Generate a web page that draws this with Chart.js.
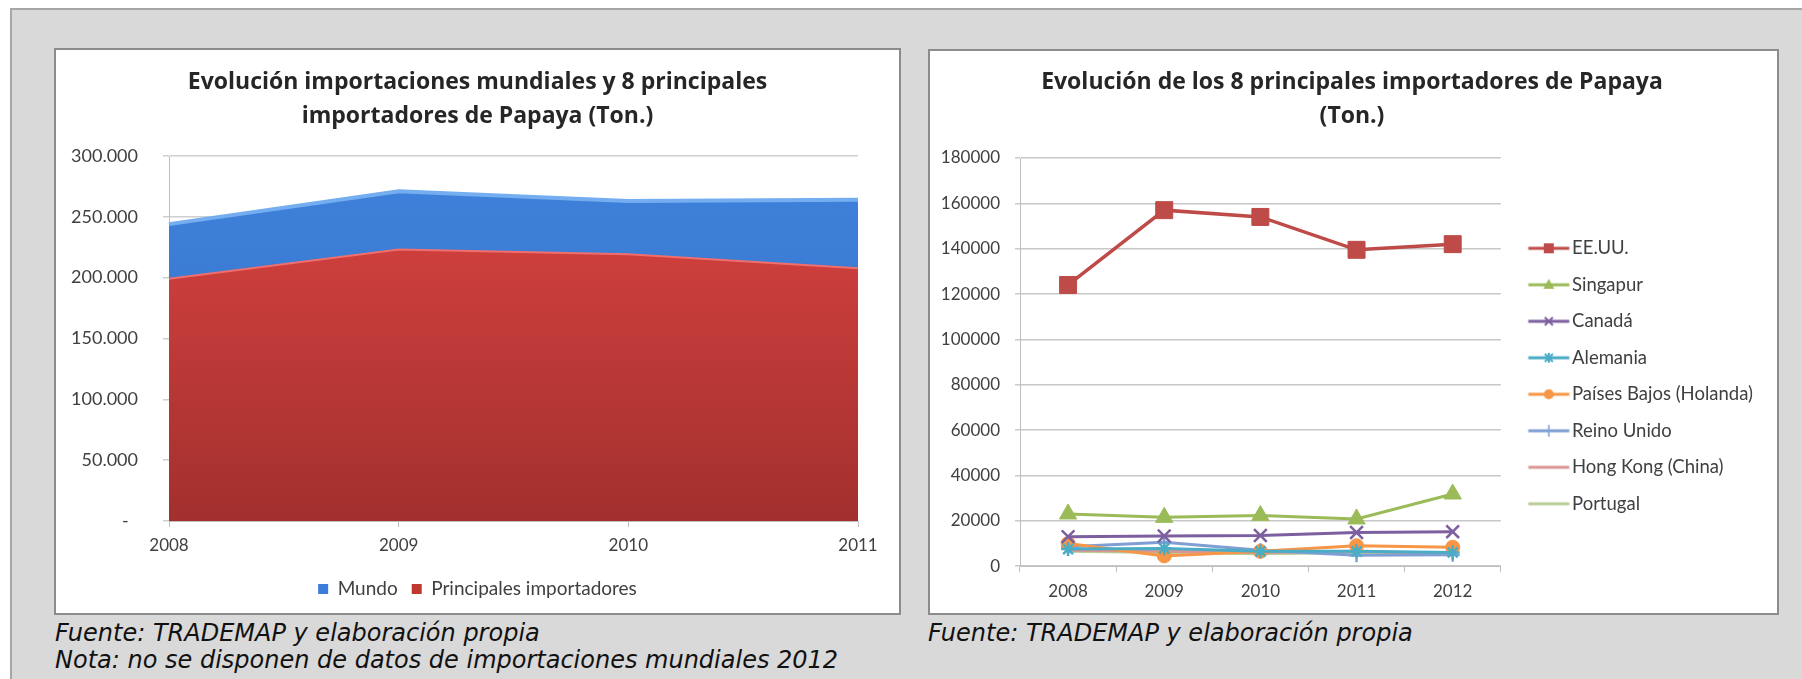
<!DOCTYPE html>
<html>
<head>
<meta charset="utf-8">
<script src="https://cdn.jsdelivr.net/npm/chart.js@4/dist/chart.umd.min.js"></script>
<style>
  html, body { margin: 0; padding: 0; background: #fff; }
  body { width: 1802px; height: 679px; position: relative; overflow: hidden; }
  #frame { position: absolute; left: 10px; top: 8px; width: 1800px; height: 700px; border: 2px solid #a6a6a6; background: #d9d9d9; box-sizing: border-box; }
  .box { position: absolute; background: #fff; border: 2px solid #8c8c8c; }
  #boxL { left: 54px; top: 48px; width: 843px; height: 563px; }
  #boxR { left: 928px; top: 49px; width: 847px; height: 562px; }
  canvas { display: block; }
  .note { position: absolute; font-family: "DejaVu Sans"; font-style: italic; font-size: 24px; line-height: 27px; color: #111; white-space: nowrap; }
</style>
</head>
<body>
<div id="frame"></div>
<div class="box" id="boxL"><canvas id="areaChart" width="843" height="563"></canvas></div>
<div class="box" id="boxR"><canvas id="lineChart" width="847" height="562"></canvas></div>
<div class="note" style="left:55px; top:620px;">Fuente: TRADEMAP y elaboración propia<br>Nota: no se disponen de datos de importaciones mundiales 2012</div>
<div class="note" style="left:928px; top:620px;">Fuente: TRADEMAP y elaboración propia</div>

<script>
// Left chart data (Ton.)
var years1 = ['2008', '2009', '2010', '2011'];
var mundo = [244000, 271000, 263000, 264000];
var principales = [200000, 224000, 220000, 208500];

// Right chart data (Ton.)
var years2 = ['2008', '2009', '2010', '2011', '2012'];
var importers = ['EE.UU.', 'Singapur', 'Canadá', 'Alemania', 'Países Bajos (Holanda)', 'Reino Unido', 'Hong Kong (China)', 'Portugal'];
var eeuu = [124000, 157000, 154000, 139500, 142000];
var singapur = [23000, 21500, 22300, 20800, 31800];
var canada = [13000, 13300, 13500, 14800, 15200];
var alemania = [7500, 7800, 6500, 6500, 6000];
var paisesBajos = [10000, 4500, 6500, 9000, 8300];
var reinoUnido = [8500, 10500, 7000, 4800, 5000];
var hongKong = [7000, 6500, 6000, 6500, 5500];
var portugal = [6500, 6000, 5500, 6000, 5000];

var importerData = [eeuu, singapur, canada, alemania, paisesBajos, reinoUnido, hongKong, portugal];

// styles
var lineColors = ['#be4b48', '#9bbb59', '#7d5fa0', '#4bacc6', '#f79646', '#7f9fd4', '#d99694', '#b9cd96'];
var markers = ['rect', 'triangle', 'crossRot', 'star', 'circle', 'cross', false, false];
var markerSizes = [12, 10, 9, 7, 7, 7, 0, 0];
var titleFont = { family: 'Open Sans', size: 23, weight: 'bold', lineHeight: 34 / 23 };

Chart.defaults.font.family = 'Lato';
Chart.defaults.color = '#404040';

function puntos(v) {
  if (v === 0) return '-  ';
  return String(v).replace(/\B(?=(\d{3})+(?!\d))/g, '.');
}

function vGradient(top, bottom) {
  return function (ctx) {
    var area = ctx.chart.chartArea;
    if (!area) return top;
    var g = ctx.chart.ctx.createLinearGradient(0, area.top, 0, area.bottom);
    g.addColorStop(0, top);
    g.addColorStop(1, bottom);
    return g;
  };
}

// legend icon: line with marker in the middle
function makeIcon(color, marker) {
  var c = document.createElement('canvas');
  c.width = 64; c.height = 20;
  var g = c.getContext('2d');
  g.strokeStyle = color;
  g.fillStyle = color;
  g.lineWidth = 3;
  g.beginPath(); g.moveTo(19.5, 10); g.lineTo(60.5, 10); g.stroke();
  var x = 40, y = 10;
  g.lineWidth = 2;
  if (marker === 'rect') {
    g.fillRect(x - 5, y - 5, 10, 10);
  } else if (marker === 'triangle') {
    g.beginPath(); g.moveTo(x, y - 6); g.lineTo(x + 5.5, y + 4); g.lineTo(x - 5.5, y + 4); g.closePath(); g.fill();
  } else if (marker === 'crossRot') {
    g.beginPath(); g.moveTo(x - 4, y - 4); g.lineTo(x + 4, y + 4); g.moveTo(x + 4, y - 4); g.lineTo(x - 4, y + 4); g.stroke();
  } else if (marker === 'star') {
    g.beginPath(); g.moveTo(x - 4, y - 4); g.lineTo(x + 4, y + 4); g.moveTo(x + 4, y - 4); g.lineTo(x - 4, y + 4);
    g.moveTo(x, y - 5); g.lineTo(x, y + 5); g.stroke();
  } else if (marker === 'circle') {
    g.beginPath(); g.arc(x, y, 5, 0, Math.PI * 2); g.fill();
  } else if (marker === 'cross') {
    g.lineWidth = 1.5;
    g.beginPath(); g.moveTo(x, y - 6); g.lineTo(x, y + 6); g.stroke();
  }
  return c;
}

// Left: area chart
var areaCtx = document.getElementById('areaChart');
var legendBoxColors = ['#3b7dd8', '#c0392f'];

new Chart(areaCtx, {
  type: 'line',
  data: {
    labels: years1,
    datasets: [{
      label: 'Mundo',
      data: mundo,
      fill: '+1',
      backgroundColor: vGradient('#3f82dc', '#356fc2'),
      borderColor: '#74aef0',
      borderWidth: 4,
      pointRadius: 0,
      tension: 0
    }, {
      label: 'Principales importadores',
      data: principales,
      fill: 'origin',
      backgroundColor: vGradient('#dc4442', '#a2302e'),
      borderColor: '#f06e6c',
      borderWidth: 4,
      pointRadius: 0,
      tension: 0
    }]
  },
  options: {
    responsive: false,
    animation: false,
    layout: { padding: { left: 0, right: 0, top: 0, bottom: 4.5 } },
    plugins: {
      title: {
        display: true,
        text: ['Evolución importaciones mundiales y 8 principales', 'importadores de Papaya (Ton.)'],
        font: titleFont,
        color: '#262626',
        padding: { top: 15, bottom: 23 }
      },
      legend: {
        position: 'bottom',
        maxHeight: 45,
        labels: {
          boxWidth: 10,
          boxHeight: 10,
          padding: 14,
          color: '#404040',
          font: { size: 19 },
          generateLabels: function (chart) {
            var items = Chart.defaults.plugins.legend.labels.generateLabels(chart);
            items.forEach(function (it, i) {
              it.fillStyle = legendBoxColors[i];
              it.strokeStyle = legendBoxColors[i];
              it.lineWidth = 0;
            });
            return items;
          }
        }
      },
      tooltip: { enabled: false }
    },
    scales: {
      x: {
        offset: false,
        grid: { drawOnChartArea: false, tickLength: 6, color: '#bfbfbf' },
        border: { color: '#bfbfbf' },
        ticks: { padding: 8, font: { size: 17 }, maxRotation: 0, autoSkip: false },
        afterFit: function (s) { s.height = 44.5; }
      },
      y: {
        min: 0,
        max: 300000,
        grid: { color: '#cfcfcf', lineWidth: 1.5, tickLength: 6 },
        border: { color: '#bfbfbf' },
        ticks: { stepSize: 50000, padding: 25, font: { size: 18 }, callback: puntos },
        afterFit: function (s) { s.width = 113; }
      },
      // empty right margin so title and legend stay centred on the box
      spacer: {
        position: 'right',
        grid: { display: false },
        border: { display: false },
        ticks: { display: false },
        afterFit: function (s) { s.width = 41; }
      }
    }
  }
});

// Right: line chart
var lineCtx = document.getElementById('lineChart');

var lineSets = importers.map(function (name, i) {
  return {
    label: name,
    data: importerData[i],
    borderColor: lineColors[i],
    backgroundColor: lineColors[i],
    borderWidth: i === 0 ? 3.5 : 3,
    pointStyle: markers[i],
    pointRadius: markerSizes[i],
    pointBorderWidth: (markers[i] === 'crossRot' || markers[i] === 'cross' || markers[i] === 'star') ? 2.5 : 1,
    pointBackgroundColor: lineColors[i],
    pointBorderColor: lineColors[i],
    fill: false,
    tension: 0
  };
});

new Chart(lineCtx, {
  type: 'line',
  data: { labels: years2, datasets: lineSets },
  options: {
    responsive: false,
    animation: false,
    layout: { padding: { left: 11, right: 14, top: 0, bottom: 11 } },
    plugins: {
      title: {
        display: true,
        text: ['Evolución de los 8 principales importadores de Papaya', '(Ton.)'],
        font: titleFont,
        color: '#262626',
        padding: { top: 14, bottom: 25 }
      },
      legend: {
        position: 'right',
        fullSize: false,
        maxWidth: 320,
        title: { display: true, text: '', padding: 0, font: { size: 28, lineHeight: 1 } },
        labels: {
          usePointStyle: true,
          pointStyleWidth: 44,
          padding: 18,
          color: '#404040',
          font: { size: 18.5 },
          generateLabels: function (chart) {
            var items = Chart.defaults.plugins.legend.labels.generateLabels(chart);
            items.forEach(function (it, i) {
              it.pointStyle = makeIcon(lineColors[i], markers[i]);
            });
            return items;
          }
        }
      },
      tooltip: { enabled: false }
    },
    scales: {
      x: {
        offset: true,
        grid: { offset: true, drawOnChartArea: false, tickLength: 6, color: '#bfbfbf' },
        border: { color: '#bfbfbf' },
        ticks: { padding: 9.5, font: { size: 17 }, maxRotation: 0, autoSkip: false },
        afterFit: function (s) { s.height = 35.9; }
      },
      y: {
        min: 0,
        max: 180000,
        grid: { color: '#c8c8c8', lineWidth: 1.5, tickLength: 5 },
        border: { color: '#bfbfbf' },
        ticks: { stepSize: 20000, padding: 15, font: { size: 17 }, callback: function (v) { return String(v); } },
        afterFit: function (s) { s.width = 79; }
      }
    }
  }
});
</script>
</body>
</html>
